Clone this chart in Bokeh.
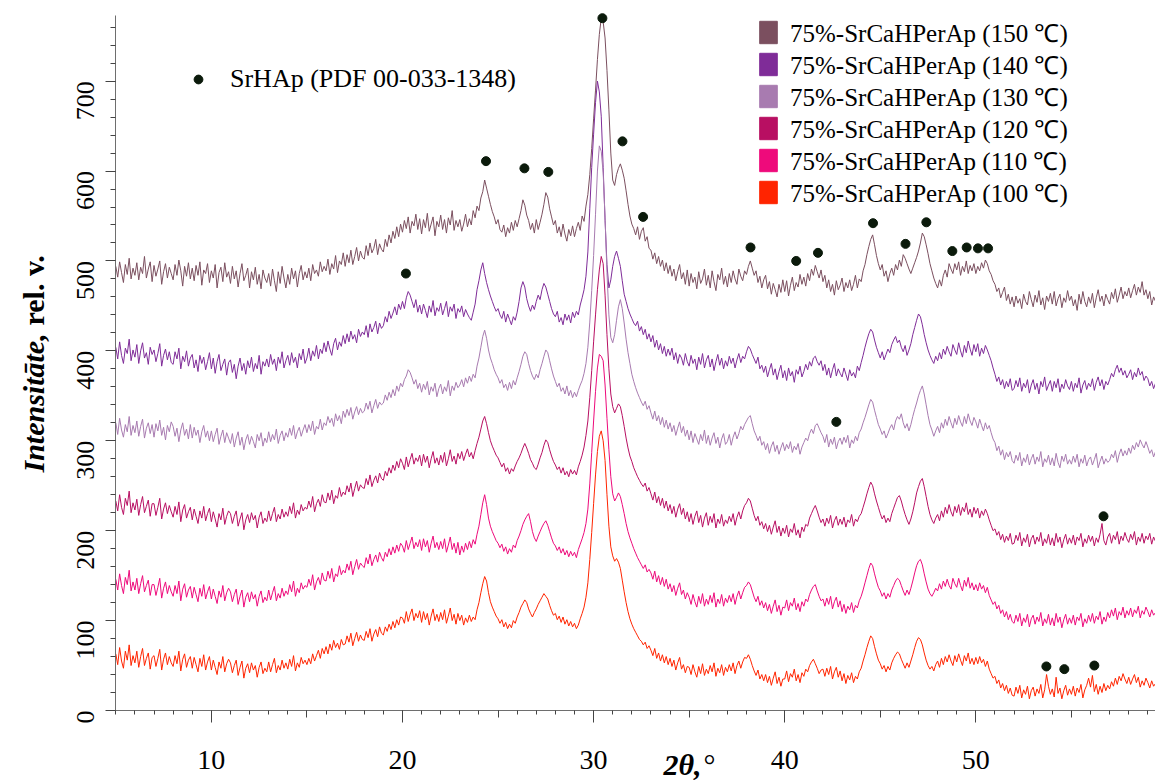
import math
import numpy as np
from bokeh.plotting import figure
from bokeh.models import (Range1d, FixedTicker, LinearAxis, Legend, LegendItem, Label)
from bokeh.embed import file_html
from bokeh.resources import INLINE

# Diffraction angle grid, 2θ in degrees (0.1° step)
two_theta = np.round(np.arange(5.0, 59.45, 0.1), 1)

# Intensity (rel. units, stacked) for each synthesis temperature; one row per degree
i_150 = [
    494, 482, 499, 487, 476, 496, 485, 503, 480, 492,
    484, 498, 479, 493, 486, 505, 481, 491, 499, 477,
    495, 483, 491, 500, 474, 488, 497, 481, 493, 486,
    479, 496, 484, 501, 489, 472, 494, 483, 498, 480,
    492, 478, 495, 484, 499, 473, 490, 486, 497, 476,
    489, 481, 496, 470, 487, 493, 477, 498, 482, 488,
    475, 494, 480, 489, 471, 486, 497, 478, 484, 492,
    470, 488, 479, 493, 474, 485, 469, 490, 481, 476,
    486, 472, 491, 478, 466, 488, 475, 494, 481, 470,
    485, 474, 492, 480, 489, 471, 486, 495, 479, 488,
    481, 492, 478, 496, 486, 490, 483, 499, 488, 494,
    489, 502, 485, 497, 491, 506, 487, 500, 496, 509,
    494, 507, 498, 512, 496, 505, 515, 500, 511, 504,
    502, 517, 506, 520, 509, 514, 524, 507, 519, 513,
    510, 524, 516, 529, 520, 533, 525, 538, 527, 541,
    532, 545, 536, 549, 531, 544, 539, 552, 535, 547,
    530, 546, 537, 553, 533, 541, 549, 528, 544, 538,
    551, 535, 546, 531, 548, 540, 556, 534, 545, 538,
    546, 533, 541, 552, 538, 547, 540, 556, 548, 561,
    556, 570, 577, 590, 581, 572, 563, 555, 549, 541,
    546, 535, 532, 540, 527, 537, 531, 543, 534, 545,
    538, 547, 556, 568, 562, 551, 545, 535, 542, 531,
    546, 535, 543, 552, 563, 576, 571, 558, 549, 540,
    545, 531, 538, 527, 541, 530, 522, 535, 528, 539,
    527, 536, 543, 534, 550, 544, 561, 574, 596, 625,
    658, 690, 724, 752, 770, 766, 748, 712, 668, 620,
    590, 584, 596, 603, 608, 601, 592, 578, 563, 550,
    541, 536, 529, 538, 524, 533, 537, 522, 527, 514,
    512, 502, 509, 497, 505, 494, 501, 489, 498, 486,
    495, 483, 491, 478, 488, 496, 480, 487, 474, 490,
    472, 486, 476, 482, 469, 488, 475, 480, 491, 473,
    484, 470, 489, 477, 467, 485, 479, 492, 474, 483,
    471, 486, 476, 489, 480, 474, 491, 483, 478, 489,
    485, 494, 500, 492, 484, 489, 476, 483, 470, 479,
    484, 469, 477, 463, 475, 468, 460, 474, 465, 479,
    466, 478, 461, 473, 482, 467, 476, 471, 485, 474,
    482, 472, 486, 478, 491, 484, 495, 488, 481, 490,
    477, 484, 470, 479, 466, 474, 462, 478, 468, 473,
    481, 466, 476, 470, 479, 467, 474, 484, 470, 480,
    477, 489, 496, 507, 516, 524, 529, 518, 506, 497,
    490, 496, 483, 489, 477, 486, 492, 484, 496, 490,
    501, 494, 507, 503, 497, 491, 486, 492, 498, 504,
    511, 520, 531, 527, 518, 508, 497, 489, 481, 475,
    470, 479, 472, 484, 490, 482, 497, 491, 486, 497,
    490, 499, 484, 494, 488, 500, 486, 495, 489, 497,
    486, 494, 489, 498, 492, 501, 497, 489, 485, 478,
    474, 466, 470, 459, 465, 471, 456, 463, 452, 460,
    449, 461, 453, 458, 447, 463, 455, 451, 466, 457,
    449, 462, 454, 467, 451, 459, 446, 461, 455, 464,
    452, 466, 450, 458, 463, 448, 459, 454, 467, 456,
    461, 450, 457, 445, 463, 452, 466, 455, 449, 460,
    453, 464, 448, 459, 468, 455, 461, 450, 463, 457,
    452, 465, 458, 469, 454, 462, 471, 458, 466, 461,
    470, 459, 467, 474, 462, 471, 465, 477, 462, 468,
    458, 466, 451, 460, 455,
]
i_140 = [
    404, 391, 410, 395, 386, 403, 397, 413, 389, 401,
    393, 407, 386, 400, 409, 392, 398, 385, 404, 396,
    401, 388, 397, 408, 383, 395, 402, 390, 399, 387,
    385, 399, 391, 403, 380, 394, 388, 400, 383, 392,
    396, 381, 390, 377, 395, 386, 393, 379, 388, 398,
    380, 392, 375, 388, 396, 378, 385, 391, 373, 387,
    390, 376, 385, 369, 383, 392, 378, 386, 374, 389,
    381, 393, 377, 386, 380, 395, 374, 388, 383, 391,
    382, 396, 385, 391, 378, 393, 386, 399, 381, 389,
    395, 384, 398, 387, 393, 381, 397, 390, 402, 386,
    392, 403, 389, 400, 394, 406, 391, 402, 397, 409,
    399, 411, 402, 395, 408, 414, 401, 410, 405, 417,
    408, 419, 410, 422, 413, 418, 409, 424, 416, 421,
    418, 428, 415, 430, 421, 426, 433, 419, 431, 425,
    428, 438, 432, 444, 436, 442, 449, 440, 452, 446,
    455, 447, 459, 466, 462, 455, 448, 457, 443, 451,
    441, 452, 445, 437, 450, 443, 456, 439, 448, 444,
    453, 440, 447, 455, 438, 449, 444, 452, 436, 447,
    443, 450, 438, 446, 441, 437, 434, 443, 452, 468,
    478, 490, 498, 486, 476, 468, 461, 455, 449, 444,
    447, 440, 436, 444, 432, 441, 435, 429, 438, 434,
    443, 455, 470, 477, 471, 458, 450, 444, 451, 446,
    455, 462, 457, 468, 475, 471, 463, 455, 447, 441,
    438, 444, 432, 437, 429, 441, 434, 440, 431, 443,
    437, 444, 440, 451, 459, 468, 483, 510, 558, 604,
    641, 676, 700, 688, 661, 604, 545, 496, 470, 479,
    494, 505, 511, 503, 494, 478, 463, 455, 447, 441,
    436, 431, 428, 433, 422, 427, 418, 424, 413, 419,
    410, 417, 404, 412, 401, 408, 397, 405, 394, 402,
    395, 403, 390, 398, 386, 396, 392, 384, 397, 388,
    383, 395, 386, 391, 379, 393, 385, 397, 381, 390,
    395, 382, 391, 378, 388, 396, 384, 392, 380, 389,
    383, 394, 386, 392, 381, 390, 397, 387, 394, 391,
    399, 405, 402, 396, 391, 386, 393, 380, 384, 376,
    383, 371, 379, 386, 373, 380, 368, 377, 384, 370,
    378, 367, 381, 372, 377, 365, 379, 374, 383, 371,
    377, 385, 379, 388, 383, 392, 394, 388, 384, 389,
    378, 385, 373, 381, 370, 379, 386, 372, 380, 375,
    371, 381, 374, 367, 379, 372, 376, 370, 383, 378,
    387, 395, 404, 412, 419, 424, 421, 412, 404, 398,
    392, 399, 390, 396, 402, 398, 407, 412, 416, 409,
    412, 404, 399, 406, 395, 401, 408, 418, 426, 434,
    441, 438, 429, 418, 409, 401, 395, 390, 386, 394,
    389, 398, 391, 402, 396, 405, 399, 394, 407, 401,
    396, 409, 400, 393, 406, 398, 411, 402, 395, 407,
    399, 408, 394, 403, 397, 406, 401, 395, 389, 381,
    374, 366, 371, 362, 368, 358, 366, 360, 369, 356,
    358, 367, 360, 370, 355, 364, 359, 368, 353, 362,
    368, 357, 364, 352, 366, 360, 371, 356, 362, 367,
    355, 366, 359, 369, 354, 363, 358, 368, 361, 357,
    366, 355, 364, 359, 370, 353, 362, 367, 357, 364,
    360, 369, 356, 365, 371, 361, 368, 357, 366, 362,
    368, 375, 371, 379, 384, 376, 381, 373, 378, 370,
    374, 379, 368, 376, 371, 381, 373, 377, 367, 372,
    369, 361, 366, 358, 364,
]
i_130 = [
    320, 307, 325, 312, 304, 318, 310, 327, 306, 317,
    309, 322, 305, 316, 324, 303, 314, 320, 308, 318,
    304, 319, 311, 323, 306, 315, 301, 317, 310, 321,
    316, 305, 314, 299, 312, 320, 306, 313, 302, 318,
    303, 315, 306, 312, 298, 310, 317, 304, 311, 300,
    311, 299, 307, 314, 296, 305, 312, 298, 309, 303,
    297, 308, 293, 303, 310, 295, 304, 290, 301, 307,
    296, 305, 299, 292, 307, 300, 309, 294, 303, 298,
    310, 299, 307, 301, 313, 297, 306, 311, 300, 309,
    304, 314, 306, 317, 302, 310, 315, 305, 312, 318,
    309, 318, 311, 322, 307, 316, 313, 324, 312, 320,
    317, 327, 320, 325, 316, 330, 322, 328, 319, 333,
    326, 335, 328, 337, 324, 332, 338, 329, 336, 331,
    333, 342, 335, 344, 331, 339, 346, 336, 343, 340,
    342, 351, 345, 354, 348, 357, 350, 361, 355, 364,
    360, 368, 372, 379, 376, 370, 363, 368, 358, 364,
    354, 363, 357, 366, 351, 360, 355, 364, 349, 358,
    363, 352, 360, 355, 367, 350, 361, 356, 365, 359,
    362, 368, 360, 370, 364, 372, 366, 374, 370, 383,
    392, 404, 416, 423, 414, 401, 392, 386, 379, 374,
    370, 364, 368, 359, 363, 356, 365, 358, 367, 362,
    370, 377, 385, 394, 399, 396, 386, 378, 372, 368,
    374, 370, 379, 386, 394, 401, 398, 389, 380, 372,
    366, 360, 364, 355, 359, 352, 361, 350, 356, 348,
    354, 349, 356, 362, 367, 375, 386, 404, 432, 467,
    506, 552, 600, 628, 622, 598, 548, 487, 440, 415,
    409, 418, 434, 449, 457, 447, 431, 413, 398, 386,
    374, 366, 359, 353, 348, 343, 339, 344, 335, 339,
    331, 324, 333, 322, 328, 318, 326, 315, 323, 313,
    320, 310, 317, 306, 314, 321, 309, 316, 305, 312,
    301, 311, 298, 308, 302, 296, 307, 300, 312, 297,
    306, 295, 303, 309, 297, 304, 292, 302, 308, 296,
    299, 307, 295, 304, 310, 302, 308, 316, 312, 318,
    322, 326, 328, 319, 311, 306, 300, 305, 295, 299,
    290, 297, 286, 294, 299, 288, 295, 285, 292, 298,
    289, 296, 291, 299, 287, 294, 290, 297, 285, 293,
    298, 303, 300, 308, 313, 308, 317, 319, 314, 309,
    305, 298, 307, 293, 302, 296, 304, 291, 299, 303,
    296, 304, 298, 306, 292, 301, 297, 305, 300, 309,
    313, 320, 326, 333, 340, 346, 343, 334, 326, 318,
    313, 307, 311, 303, 308, 314, 318, 312, 322, 327,
    324, 330, 320, 314, 319, 311, 318, 327, 335, 342,
    350, 356, 361, 352, 340, 328, 318, 312, 305, 311,
    316, 309, 320, 314, 324, 317, 327, 320, 314, 325,
    318, 328, 321, 316, 327, 319, 330, 322, 317, 326,
    321, 314, 324, 317, 311, 320, 313, 317, 309, 302,
    298, 289, 294, 284, 290, 279, 287, 282, 288, 278,
    275, 284, 278, 287, 272, 281, 276, 285, 273, 280,
    285, 274, 282, 277, 288, 271, 280, 276, 284, 273,
    281, 272, 286, 276, 270, 283, 277, 285, 274, 279,
    274, 283, 276, 285, 271, 280, 275, 284, 272, 279,
    282, 273, 279, 286, 270, 277, 283, 274, 280, 276,
    278, 285, 281, 289, 276, 285, 291, 283, 289, 284,
    292, 286, 295, 290, 298, 293, 301, 296, 292, 299,
    293, 286, 290, 282, 288,
]
i_120 = [
    233, 222, 240, 226, 218, 236, 228, 244, 220, 231,
    223, 235, 217, 229, 238, 220, 227, 234, 216, 230,
    230, 217, 226, 236, 213, 224, 231, 219, 228, 221,
    215, 227, 218, 232, 210, 223, 229, 214, 221, 226,
    212, 224, 216, 208, 222, 214, 227, 211, 219, 225,
    210, 221, 213, 204, 219, 212, 225, 207, 216, 222,
    219, 208, 216, 222, 205, 213, 220, 201, 212, 218,
    209, 220, 212, 217, 203, 215, 221, 208, 214, 210,
    222, 211, 219, 226, 210, 218, 213, 224, 215, 221,
    216, 227, 219, 231, 214, 223, 218, 229, 222, 226,
    224, 233, 226, 238, 221, 230, 235, 227, 240, 232,
    231, 242, 234, 245, 230, 239, 236, 248, 238, 243,
    240, 250, 243, 253, 238, 247, 255, 244, 251, 248,
    247, 258, 251, 262, 249, 256, 261, 253, 264, 258,
    256, 266, 261, 270, 264, 273, 267, 277, 270, 280,
    275, 268, 282, 271, 279, 286, 274, 281, 277, 284,
    272, 285, 276, 283, 270, 280, 288, 275, 281, 273,
    284, 276, 287, 272, 280, 290, 277, 283, 274, 286,
    280, 288, 278, 285, 291, 282, 287, 280, 289, 297,
    304, 313, 322, 327, 319, 309, 300, 294, 289, 284,
    281, 276, 271, 275, 266, 270, 263, 269, 266, 272,
    277, 281, 286, 292, 297, 292, 286, 279, 275, 270,
    268, 274, 281, 287, 295, 301, 298, 290, 283, 277,
    273, 268, 271, 264, 270, 262, 266, 260, 268, 263,
    267, 262, 271, 277, 284, 293, 306, 322, 348, 378,
    410, 440, 468, 490, 505, 497, 462, 418, 380, 352,
    338, 331, 336, 341, 338, 328, 316, 303, 292, 283,
    277, 270, 265, 260, 256, 252, 249, 253, 244, 248,
    241, 234, 243, 231, 238, 228, 236, 225, 233, 222,
    229, 219, 227, 215, 224, 230, 218, 225, 213, 221,
    210, 219, 207, 216, 222, 209, 217, 204, 214, 220,
    206, 216, 209, 219, 203, 213, 208, 218, 205, 212,
    208, 216, 210, 219, 206, 215, 221, 213, 222, 228,
    231, 236, 233, 225, 217, 211, 216, 206, 210, 202,
    208, 199, 206, 196, 204, 211, 198, 205, 194, 203,
    197, 206, 193, 202, 198, 208, 195, 201, 192, 204,
    199, 207, 205, 214, 219, 224, 228, 222, 215, 209,
    213, 205, 214, 208, 217, 203, 211, 216, 206, 213,
    207, 215, 204, 212, 209, 218, 205, 213, 210, 216,
    219, 226, 233, 241, 248, 254, 250, 241, 233, 226,
    219, 213, 217, 209, 214, 210, 219, 225, 231, 237,
    239, 233, 225, 218, 212, 207, 213, 221, 231, 242,
    249, 255, 258, 249, 238, 227, 218, 212, 208, 214,
    218, 211, 222, 215, 226, 219, 229, 221, 216, 227,
    220, 229, 217, 226, 221, 231, 218, 224, 215, 226,
    219, 225, 214, 222, 217, 224, 219, 212, 206, 200,
    202, 195, 199, 190, 196, 187, 194, 189, 197, 185,
    186, 195, 189, 198, 183, 192, 187, 196, 182, 191,
    195, 185, 193, 188, 198, 183, 191, 186, 196, 184,
    192, 183, 197, 187, 193, 181, 190, 196, 185, 192,
    186, 195, 184, 193, 189, 197, 182, 191, 186, 195,
    188, 194, 183, 192, 187, 196, 208, 189, 184, 193,
    197, 186, 195, 190, 199, 185, 194, 189, 198, 191,
    187, 196, 190, 199, 184, 193, 188, 197, 186, 194,
    190, 197, 185, 193, 188,
]
i_110 = [
    146, 134, 152, 139, 130, 148, 140, 156, 133, 143,
    134, 147, 130, 141, 150, 132, 139, 145, 128, 140,
    140, 128, 137, 147, 125, 136, 143, 130, 139, 132,
    127, 139, 130, 144, 122, 135, 141, 126, 134, 138,
    125, 137, 129, 121, 136, 127, 140, 124, 132, 138,
    124, 135, 127, 119, 133, 126, 139, 122, 131, 136,
    132, 121, 129, 135, 118, 127, 134, 115, 126, 131,
    121, 132, 124, 129, 116, 127, 133, 120, 126, 122,
    134, 123, 131, 138, 122, 130, 125, 136, 127, 133,
    129, 140, 132, 144, 127, 136, 131, 142, 135, 139,
    137, 146, 139, 151, 134, 143, 148, 140, 153, 145,
    144, 155, 147, 158, 143, 152, 149, 161, 151, 156,
    153, 163, 156, 166, 151, 160, 168, 157, 164, 161,
    159, 170, 163, 174, 161, 168, 173, 165, 176, 170,
    166, 176, 171, 180, 173, 182, 175, 184, 177, 186,
    183, 176, 189, 179, 186, 193, 180, 187, 182, 190,
    178, 191, 182, 189, 176, 186, 194, 181, 187, 179,
    188, 180, 191, 176, 184, 193, 179, 186, 175, 187,
    173, 183, 176, 186, 179, 188, 181, 190, 185, 196,
    205, 218, 231, 240, 229, 214, 205, 199, 194, 189,
    186, 181, 185, 177, 182, 174, 180, 176, 184, 181,
    189, 194, 200, 207, 212, 216, 219, 210, 199, 192,
    188, 194, 199, 204, 208, 211, 206, 199, 192, 186,
    183, 178, 182, 175, 180, 173, 178, 171, 177, 172,
    176, 170, 179, 185, 191, 198, 208, 224, 252, 287,
    322, 355, 381, 396, 394, 389, 362, 325, 290, 260,
    241, 233, 237, 242, 238, 229, 219, 208, 199, 192,
    186, 180, 175, 170, 166, 162, 158, 162, 154, 157,
    153, 146, 155, 143, 150, 140, 148, 138, 146, 135,
    141, 132, 139, 128, 136, 142, 129, 134, 124, 131,
    126, 118, 129, 121, 115, 127, 119, 130, 116, 124,
    118, 128, 120, 131, 115, 124, 119, 129, 116, 125,
    120, 128, 121, 130, 118, 127, 133, 124, 131, 137,
    139, 143, 140, 133, 126, 121, 127, 117, 122, 114,
    120, 111, 118, 108, 116, 123, 110, 117, 106, 115,
    114, 123, 111, 120, 116, 125, 112, 119, 110, 121,
    116, 124, 121, 129, 134, 138, 140, 133, 127, 122,
    124, 116, 125, 118, 127, 113, 121, 126, 115, 122,
    110, 118, 108, 116, 112, 120, 109, 117, 114, 122,
    127, 134, 142, 150, 158, 164, 161, 152, 144, 137,
    133, 127, 131, 124, 130, 126, 134, 139, 144, 147,
    145, 139, 133, 128, 134, 129, 136, 144, 153, 161,
    166, 168, 162, 152, 143, 135, 130, 127, 131, 136,
    133, 141, 135, 144, 138, 146, 139, 135, 147, 141,
    137, 147, 139, 133, 145, 138, 148, 136, 142, 134,
    140, 133, 142, 135, 139, 131, 137, 128, 123, 118,
    121, 113, 117, 108, 112, 104, 110, 101, 107, 99,
    97, 106, 99, 108, 94, 103, 98, 107, 93, 102,
    106, 96, 104, 99, 109, 94, 102, 97, 107, 95,
    103, 94, 108, 98, 104, 92, 101, 107, 96, 103,
    97, 106, 95, 104, 100, 108, 93, 102, 97, 106,
    99, 108, 97, 105, 101, 110, 96, 104, 99, 109,
    103, 112, 105, 114, 101, 110, 106, 115, 103, 111,
    106, 114, 104, 112, 108, 116, 103, 111, 107, 115,
    110, 104, 112, 106, 109,
]
i_100 = [
    63, 51, 70, 55, 47, 66, 56, 73, 50, 61,
    53, 66, 48, 60, 69, 50, 58, 64, 46, 59,
    61, 49, 58, 68, 45, 57, 64, 51, 60, 53,
    49, 61, 52, 66, 44, 57, 63, 48, 56, 60,
    47, 59, 51, 43, 58, 49, 62, 45, 54, 60,
    45, 56, 48, 40, 54, 47, 60, 43, 52, 57,
    53, 42, 50, 56, 39, 48, 55, 36, 47, 52,
    42, 53, 45, 50, 37, 48, 54, 41, 47, 43,
    54, 43, 51, 58, 42, 50, 45, 56, 47, 53,
    46, 57, 49, 61, 44, 53, 48, 59, 52, 56,
    51, 58, 52, 63, 55, 61, 67, 58, 69, 63,
    71, 63, 74, 67, 78, 70, 75, 68, 79, 73,
    74, 83, 76, 86, 72, 80, 87, 77, 84, 79,
    78, 88, 81, 91, 77, 85, 90, 82, 93, 86,
    84, 93, 88, 96, 90, 99, 92, 101, 95, 104,
    103, 97, 110, 99, 107, 113, 100, 108, 103, 111,
    98, 110, 101, 108, 95, 105, 113, 100, 107, 99,
    109, 101, 112, 97, 105, 114, 100, 107, 96, 108,
    100, 106, 95, 103, 98, 106, 99, 104, 101, 112,
    120, 131, 141, 149, 144, 131, 121, 115, 110, 105,
    102, 97, 101, 93, 98, 91, 96, 92, 100, 97,
    104, 109, 115, 119, 123, 120, 113, 108, 104, 109,
    113, 118, 122, 126, 130, 127, 124, 117, 111, 106,
    108, 101, 105, 98, 104, 96, 101, 94, 99, 93,
    97, 91, 95, 102, 108, 115, 126, 142, 168, 198,
    230, 262, 288, 305, 311, 300, 278, 240, 205, 182,
    172, 166, 169, 165, 158, 145, 132, 120, 110, 102,
    96, 91, 87, 83, 79, 77, 73, 76, 69, 72,
    67, 61, 69, 58, 64, 55, 62, 53, 60, 51,
    58, 49, 56, 45, 53, 59, 46, 51, 42, 49,
    48, 40, 51, 43, 37, 49, 41, 52, 39, 46,
    41, 50, 43, 53, 38, 47, 42, 51, 39, 48,
    43, 51, 44, 53, 41, 50, 55, 47, 54, 59,
    58, 62, 57, 50, 44, 39, 45, 35, 40, 33,
    40, 31, 38, 28, 36, 43, 30, 37, 27, 35,
    35, 44, 32, 41, 37, 46, 33, 40, 31, 42,
    38, 46, 43, 50, 54, 57, 52, 47, 41, 45,
    46, 38, 47, 40, 49, 35, 43, 48, 37, 44,
    33, 41, 30, 39, 34, 42, 31, 38, 35, 43,
    47, 55, 62, 70, 77, 83, 80, 71, 63, 56,
    52, 46, 50, 43, 49, 45, 53, 58, 62, 65,
    63, 57, 52, 47, 53, 48, 55, 62, 70, 77,
    81, 79, 73, 64, 56, 50, 46, 49, 44, 51,
    55, 48, 58, 51, 60, 54, 62, 55, 50, 61,
    54, 63, 56, 50, 61, 55, 64, 52, 58, 51,
    59, 52, 60, 53, 57, 49, 55, 46, 41, 36,
    38, 30, 34, 25, 30, 22, 28, 19, 25, 17,
    16, 26, 19, 28, 14, 23, 18, 27, 13, 22,
    26, 16, 24, 19, 29, 14, 23, 40, 27, 18,
    24, 15, 37, 19, 25, 13, 22, 28, 17, 24,
    18, 27, 16, 25, 20, 29, 14, 23, 28, 36,
    26, 39, 21, 29, 18, 27, 20, 30, 22, 28,
    24, 32, 27, 36, 29, 38, 33, 41, 35, 30,
    37, 29, 35, 40, 31, 37, 26, 33, 28, 36,
    31, 25, 33, 27, 30,
]

series_labels = [
    "75%-SrCaHPerAp (150 ℃)",
    "75%-SrCaHPerAp (140 ℃)",
    "75%-SrCaHPerAp (130 ℃)",
    "75%-SrCaHPerAp (120 ℃)",
    "75%-SrCaHPerAp (110 ℃)",
    "75%-SrCaHPerAp (100 ℃)",
]
series_values = [i_150, i_140, i_130, i_120, i_110, i_100]
series_colors = ["#7b4f5f", "#7f2c98", "#a87bb0", "#b80f62", "#ee0a7b", "#ff2400"]

# SrHAp reference reflections (PDF 00-033-1348), marked above the patterns
dot_x = [20.18, 24.37, 26.38, 27.63, 30.46, 31.51, 32.59, 38.21, 40.60, 41.74, 42.70,
         44.62, 46.32, 47.41, 48.77, 49.52, 50.11, 50.64, 53.69, 54.63, 56.20, 56.68]
dot_y = [486, 611, 603, 599, 770, 633, 549, 515, 500, 509, 321,
         542, 519, 543, 511, 515, 514, 514, 49, 46, 50, 216]
dot_label = "SrHAp (PDF 00-033-1348)"
dot_color = "#0b1a0b"

x_major = [10, 20, 30, 40, 50]
x_mid = [15, 25, 35, 45, 55]
y_major = list(range(0, 701, 100))

for vals in series_values:
    assert len(vals) == len(two_theta), len(vals)

SERIF = "Liberation Serif"
AXIS_GREY = "#6e6e6e"
TICK_GREY = "#444444"
CANVAS_H = 780

# The frame fills the whole canvas; both axes sit at fixed data positions
# (2θ = 5°, I = 0) so that the titles can live inside the frame as well.
p = figure(width=1155, height=CANVAS_H,
           x_range=Range1d(-1.033, 59.4), y_range=Range1d(-77.86, 789.68),
           output_backend="svg", toolbar_location=None, min_border=0)
p.grid.visible = False
p.outline_line_color = None
p.background_fill_color = "white"
p.border_fill_color = "white"

xa = p.xaxis[0]
xa.fixed_location = 0
xa.bounds = (5.0, 59.4)
xa.ticker = FixedTicker(ticks=x_major, minor_ticks=list(range(5, 60)))
xa.major_tick_out = 12
xa.major_tick_in = 0
xa.minor_tick_out = 4
xa.minor_tick_in = 0
xa.axis_line_color = AXIS_GREY
xa.major_tick_line_color = TICK_GREY
xa.minor_tick_line_color = TICK_GREY
xa.major_label_standoff = 29
xa.major_label_text_font = SERIF
xa.major_label_text_font_size = "28px"
xa.major_label_text_color = "black"

# medium ticks at the odd multiples of 5°
mid_axis = LinearAxis(ticker=FixedTicker(ticks=x_mid, minor_ticks=[]), fixed_location=0,
                      bounds=(5.0, 59.4), axis_line_color=None, major_tick_out=7,
                      major_tick_in=0, major_tick_line_color=TICK_GREY,
                      minor_tick_line_color=None, major_label_text_color=None)
p.add_layout(mid_axis, "below")

ya = p.yaxis[0]
ya.fixed_location = 5.0
ya.bounds = (0, 773)
ya.ticker = FixedTicker(ticks=y_major, minor_ticks=list(range(0, 773, 20)))
ya.major_tick_out = 10
ya.major_tick_in = 0
ya.minor_tick_out = 5
ya.minor_tick_in = 0
ya.axis_line_color = AXIS_GREY
ya.major_tick_line_color = TICK_GREY
ya.minor_tick_line_color = TICK_GREY
ya.major_label_orientation = math.pi / 2
ya.major_label_standoff = 20
ya.major_label_text_font = SERIF
ya.major_label_text_font_size = "26px"
ya.major_label_text_color = "black"

# diffraction patterns
for vals, col in zip(series_values, series_colors):
    p.line(two_theta, vals, line_color=col, line_width=1)

dots = p.scatter(dot_x, dot_y, size=9, fill_color=dot_color, line_color=dot_color)

# colour-patch legend for the six samples: one single-entry legend per row
# (zero-size swatch glyphs that are never drawn in the plot itself)
ROW_TOP, ROW_PITCH, ROW_HALF = 32, 32, 17
for k, (lab, col, vals) in enumerate(zip(series_labels, series_colors, series_values)):
    swatch = p.quad(left=[two_theta[0]], right=[two_theta[0]], top=[vals[0]],
                    bottom=[vals[0]], fill_color=col, line_color=col, visible=False)
    centre = ROW_TOP + k * ROW_PITCH
    row = Legend(items=[LegendItem(label=lab, renderers=[swatch])],
                 location=(757, CANVAS_H - centre - ROW_HALF),
                 glyph_width=22, glyph_height=28, label_height=28, label_standoff=11,
                 padding=0, margin=0, border_line_color=None,
                 background_fill_alpha=0, label_text_font=SERIF,
                 label_text_font_size="25px", label_text_color="black")
    p.add_layout(row)

dot_legend = Legend(items=[LegendItem(label=dot_label, renderers=[dots])],
                    location=(187, 686), glyph_width=22, glyph_height=30, label_height=30,
                    label_standoff=21, padding=0, margin=0, border_line_color=None,
                    background_fill_alpha=0, label_text_font=SERIF,
                    label_text_font_size="26px", label_text_color="black")
p.add_layout(dot_legend)

# axis titles
p.add_layout(Label(x=33, y=308, x_units="screen", y_units="screen",
                   text="Intensitāte,", angle=90, angle_units="deg",
                   text_font=SERIF, text_font_style="bold italic", text_font_size="30px",
                   text_align="left", text_baseline="alphabetic", text_color="black"))
p.add_layout(Label(x=33, y=455, x_units="screen", y_units="screen",
                   text="rel. v.", angle=90, angle_units="deg",
                   text_font=SERIF, text_font_style="bold", text_font_size="30px",
                   text_align="left", text_baseline="alphabetic", text_color="black"))
p.add_layout(Label(x=663, y=16, x_units="screen", y_units="screen",
                   text="2θ,", text_font=SERIF, text_font_style="bold italic",
                   text_font_size="30px", text_align="left", text_baseline="middle",
                   text_color="black"))
p.add_layout(Label(x=703, y=16, x_units="screen", y_units="screen",
                   text="°", text_font=SERIF, text_font_style="normal",
                   text_font_size="30px", text_align="left", text_baseline="middle",
                   text_color="black"))

open("out.html", "w").write(file_html(p, INLINE))
